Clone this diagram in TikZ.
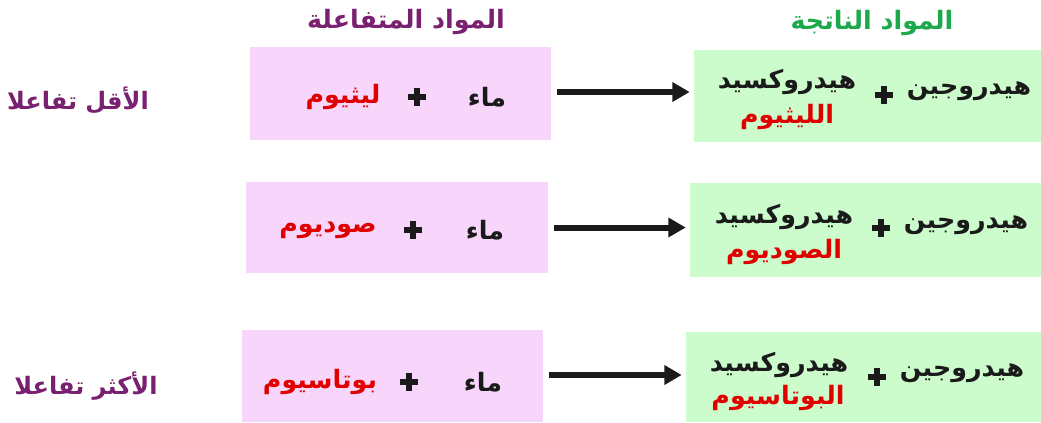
\documentclass[tikz,border=0pt]{standalone}
\usepackage{fontspec}
\usetikzlibrary{arrows.meta}
\TeXXeTstate=1
\newfontfamily\arabicfont[Script=Arabic]{DejaVu Sans}
\definecolor{pinkfill}{HTML}{F8D5FB}
\definecolor{greenfill}{HTML}{CCFBCC}
\definecolor{hdrpurple}{HTML}{7A2070}
\definecolor{hdrgreen}{HTML}{1BA94C}
\definecolor{elemred}{HTML}{E00000}
\definecolor{txtblack}{HTML}{1A1A1A}
\begin{document}
\begin{tikzpicture}[x=0.75pt,y=-0.75pt,
  pinkbox/.style={fill=pinkfill,draw=none,inner sep=0pt},
  greenbox/.style={fill=greenfill,draw=none,inner sep=0pt},
  ar/.style={font=\arabicfont\bfseries\fontsize{19}{22}\selectfont,text=txtblack,inner sep=0pt},
  red/.style={ar,text=elemred},
  hdr/.style={font=\arabicfont\bfseries\fontsize{19}{22}\selectfont,inner sep=0pt},
  side/.style={font=\arabicfont\bfseries\fontsize{18}{21}\selectfont,text=hdrpurple,inner sep=0pt},
  plus/.style={minimum size=14pt,inner sep=0pt,
    path picture={\draw[txtblack,line width=4.8pt] (path picture bounding box.north) -- (path picture bounding box.south)
      (path picture bounding box.west) -- (path picture bounding box.east);}},
  rarrow/.style={line width=4.5pt,draw=txtblack,-{Triangle[length=13pt,width=14pt]},shorten <=4.5pt,shorten >=3pt}
]
\useasboundingbox (0,0) rectangle (1041,422);

% headers
\node[hdr,text=hdrpurple] (hR) at (406,22) {\beginR المواد المتفاعلة\endR};
\node[hdr,text=hdrgreen] (hP) at (872,23) {\beginR المواد الناتجة\endR};

% side labels
\node[side] (least) at (78,100) {\beginR الأقل تفاعلا\endR};
\node[side] (most) at (86,386) {\beginR الأكثر تفاعلا\endR};

% boxes
\node[pinkbox,minimum width=225.75pt,minimum height=69.75pt] (p1) at (400.5,93.5) {};
\node[greenbox,minimum width=260.25pt,minimum height=69pt] (g1) at (867.5,96) {};
\node[pinkbox,minimum width=226.5pt,minimum height=68.25pt] (p2) at (397,227.5) {};
\node[greenbox,minimum width=263.25pt,minimum height=70.5pt] (g2) at (865.5,230) {};
\node[pinkbox,minimum width=225.75pt,minimum height=69pt] (p3) at (392.5,376) {};
\node[greenbox,minimum width=266.25pt,minimum height=67.5pt] (g3) at (863.5,377) {};

% row 1
\node[ar] (w1) at (487,97) {\beginR ماء\endR};
\node[plus] (pl1) at (417,97) {};
\node[red] (m1) at (343,97) {\beginR ليثيوم\endR};
\node[ar] (h1) at (969,91) {\beginR هيدروجين\endR};
\node[plus] (pr1) at (884,95) {};
\node[ar] (o1) at (787,82) {\beginR هيدروكسيد\endR};
\node[red] (e1) at (787,117) {\beginR الليثيوم\endR};

% row 2
\node[ar] (w2) at (485,230) {\beginR ماء\endR};
\node[plus] (pl2) at (413,230) {};
\node[red] (m2) at (328,230) {\beginR صوديوم\endR};
\node[ar] (h2) at (966,225) {\beginR هيدروجين\endR};
\node[plus] (pr2) at (881,228) {};
\node[ar] (o2) at (784,217) {\beginR هيدروكسيد\endR};
\node[red] (e2) at (784,252) {\beginR الصوديوم\endR};

% row 3
\node[ar] (w3) at (483,382) {\beginR ماء\endR};
\node[plus] (pl3) at (409,382) {};
\node[red] (m3) at (320,382) {\beginR بوتاسيوم\endR};
\node[ar] (h3) at (962,373) {\beginR هيدروجين\endR};
\node[plus] (pr3) at (877,377) {};
\node[ar] (o3) at (779,365) {\beginR هيدروكسيد\endR};
\node[red] (e3) at (778,398) {\beginR البوتاسيوم\endR};

% arrows
\draw[rarrow] ([yshift=0.75*1.5pt]p1.east) -- ([yshift=0.75*1.5pt]p1.east -| g1.west);
\draw[rarrow] (p2.east) -- (p2.east -| g2.west);
\draw[rarrow] ([yshift=0.75*1pt]p3.east) -- ([yshift=0.75*1pt]p3.east -| g3.west);
\end{tikzpicture}
\end{document}
